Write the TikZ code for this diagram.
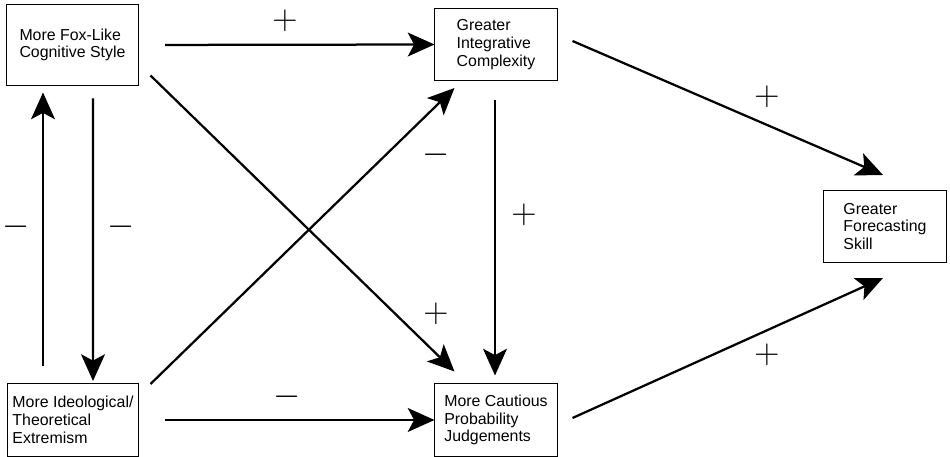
\documentclass[tikz,border=0pt]{standalone}
\usepackage{fontspec}
\setmainfont{Liberation Sans}
\usetikzlibrary{arrows.meta,calc}

\begin{document}
\begin{tikzpicture}[
  x=0.025cm, y=-0.025cm,
  box/.style={
    draw, line width=0.7pt, align=left,
    minimum width=3.05cm, minimum height=1.8cm, inner sep=2pt,
    font=\fontsize{11.3}{12.6}\selectfont
  },
  arr/.style={line width=1.6pt, -{Stealth[length=19pt,width=17pt,inset=4.5pt]}},
  sign/.style={font=\fontsize{24}{24}\selectfont, inner sep=0pt}
]

\useasboundingbox (0,0) rectangle (950,457);

% Boxes
\node[box, minimum width=3.275cm, minimum height=2cm] (fox) at (72.5,45) {More Fox-Like\\Cognitive Style};
\node[box, minimum width=3.25cm, minimum height=1.825cm] (ideo) at (73,420) {More Ideological/\\Theoretical\\Extremism};
\node[box] (integ) at (496,44.5) {Greater\\Integrative\\Complexity};
\node[box] (caut) at (496,420) {More Cautious\\Probability\\Judgements};
\node[box] (forecast) at (885,226.5) {Greater\\Forecasting\\Skill};

% Arrows
\draw[arr, shorten <=19pt] (fox.east) -- (integ.west);
\draw[arr, shorten <=19pt] (ideo.east) -- (caut.west);
\draw[arr] ($(fox.south)+(20.5,13)$) -- ($(ideo.north)+(20,-2)$);
\draw[arr] ($(ideo.north)+(-30,-17)$) -- ($(fox.south)+(-29.5,7)$);
\draw[arr] ($(fox.south east)+(12,-10)$) -- ($(caut.north west)+(20,-12)$);
\draw[arr] ($(ideo.north east)+(12,1)$) -- ($(integ.south west)+(20,7)$);
\draw[arr] ($(integ.south)+(-1,19)$) -- ($(caut.north)+(-1,-8)$);
\draw[arr] ($(integ.east)+(15,-3.5)$) -- ($(forecast.north)+(-2,-15)$);
\draw[arr] ($(caut.east)+(15,-2)$) -- ($(forecast.south)+(-2,15)$);

% Signs
\node[sign] (s-fi) at (285,21) {$+$};
\node[sign] (s-up) at (16,227) {$-$};
\node[sign] (s-down) at (121,227) {$-$};
\node[sign] (s-ii) at (436,155) {$-$};
\node[sign] (s-fc) at (436,314) {$+$};
\node[sign] (s-ic) at (287,397) {$-$};
\node[sign] (s-iv) at (524,215) {$+$};
\node[sign] (s-if) at (767,97) {$+$};
\node[sign] (s-cf) at (767,355) {$+$};

\end{tikzpicture}
\end{document}
